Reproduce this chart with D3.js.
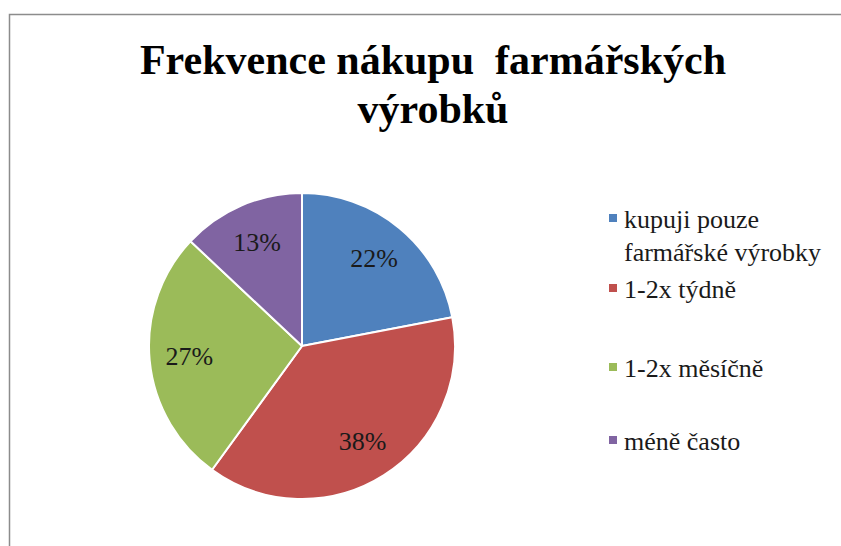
<!DOCTYPE html>
<html>
<head>
<meta charset="utf-8">
<script src="https://cdn.jsdelivr.net/npm/d3@7"></script>
<style>
  html, body { margin: 0; padding: 0; background: #fff; }
  svg { display: block; }
  .serif { font-family: "Liberation Serif", "Times New Roman", Times, "DejaVu Serif", serif; }
</style>
</head>
<body>
<svg id="chart" width="841" height="546"></svg>
<script>
const titleLines = ["Frekvence nákupu  farmářských", "výrobků"];
const categories = ["kupuji pouze farmářské výrobky", "1-2x týdně", "1-2x měsíčně", "méně často"];
const legendLines = [["kupuji pouze", "farmářské výrobky"], ["1-2x týdně"], ["1-2x měsíčně"], ["méně často"]];
const values = [22, 38, 27, 13];
const colors = ["#4F81BD", "#C0504D", "#9BBB59", "#8064A2"];

const svg = d3.select("#chart");
const W = 841, H = 546;

svg.append("rect").attr("x", 0).attr("y", 0).attr("width", W).attr("height", H).attr("fill", "#fff");
svg.append("path")
  .attr("d", `M9.5,${H} L9.5,14.5 L${W},14.5`)
  .attr("fill", "none").attr("stroke", "#8c8c8c").attr("stroke-width", 1.5);

// title
const title = svg.append("text")
  .attr("class", "serif")
  .attr("text-anchor", "middle")
  .style("font-weight", "bold")
  .style("font-size", "42px")
  .style("white-space", "pre")
  .attr("fill", "#000");
titleLines.forEach((t, i) => {
  title.append("tspan").attr("x", 433).attr("y", 74 + i * 49).text(t);
});

// pie
const cx = 302, cy = 346, R = 153;
const pie = d3.pie().sort(null).value(d => d);
const arcs = pie(values);
const arc = d3.arc().innerRadius(0).outerRadius(R);
const labelArc = d3.arc().innerRadius(R * 0.74).outerRadius(R * 0.74);
const color = d3.scaleOrdinal().domain(categories).range(colors);

const g = svg.append("g").attr("transform", `translate(${cx},${cy})`);
g.selectAll("path.slice").data(arcs).enter().append("path")
  .attr("class", "slice")
  .attr("d", arc)
  .attr("fill", (d, i) => color(categories[i]))
  .attr("stroke", "#fff").attr("stroke-width", 2).attr("stroke-linejoin", "round");

g.selectAll("text.lbl").data(arcs).enter().append("text")
  .attr("class", "lbl serif")
  .attr("transform", d => `translate(${labelArc.centroid(d)})`)
  .attr("text-anchor", "middle")
  .attr("dominant-baseline", "central")
  .style("font-size", "26px")
  .attr("fill", "#1a1a1a")
  .text(d => Math.round(d.data) + "%");

// legend
const legendBaselines = [228, 298, 377, 450];
const lg = svg.append("g");
legendLines.forEach((lines, i) => {
  const y = legendBaselines[i];
  lg.append("rect").attr("x", 609).attr("y", y - 14).attr("width", 8).attr("height", 8)
    .attr("fill", color(categories[i]));
  const t = lg.append("text")
    .attr("class", "serif")
    .style("font-size", "26px")
    .attr("fill", "#1a1a1a");
  lines.forEach((ln, j) => {
    t.append("tspan").attr("x", 624).attr("y", y + j * 33).text(ln);
  });
});
</script>
</body>
</html>
